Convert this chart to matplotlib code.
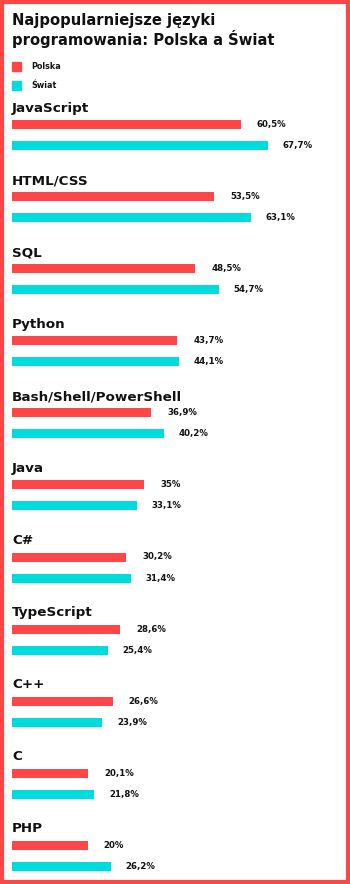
import matplotlib
matplotlib.use('Agg')
import matplotlib.pyplot as plt
from matplotlib.patches import Rectangle

# data
languages = ['JavaScript', 'HTML/CSS', 'SQL', 'Python', 'Bash/Shell/PowerShell',
             'Java', 'C#', 'TypeScript', 'C++', 'C', 'PHP']
polska = [60.5, 53.5, 48.5, 43.7, 36.9, 35.0, 30.2, 28.6, 26.6, 20.1, 20.0]
swiat = [67.7, 63.1, 54.7, 44.1, 40.2, 33.1, 31.4, 25.4, 23.9, 21.8, 26.2]
polska_labels = ['60,5%', '53,5%', '48,5%', '43,7%', '36,9%', '35%', '30,2%',
                 '28,6%', '26,6%', '20,1%', '20%']
swiat_labels = ['67,7%', '63,1%', '54,7%', '44,1%', '40,2%', '33,1%', '31,4%',
                '25,4%', '23,9%', '21,8%', '26,2%']

RED = '#ff4646'
CYAN = '#00dcdc'
W, H = 350, 884
px_per_pct = 3.78

fig = plt.figure(figsize=(W / 100, H / 100), dpi=100)
fig.patch.set_facecolor('white')

ax = fig.add_axes([12 / W, 0, 1 - 12 / W, 1])
ax.set_xlim(0, (W - 12) / px_per_pct)
ax.set_ylim(H, 0)
ax.axis('off')

step = 72.05
for i, lang in enumerate(languages):
    ty = 108.5 + step * i
    y1 = 124.7 + step * i
    y2 = 145.7 + step * i
    ax.text(0, ty, lang, fontsize=9.7, fontweight='bold', va='center', ha='left',
            color='#111111')
    ax.barh(y1, polska[i], height=9, left=0, color=RED)
    ax.barh(y2, swiat[i], height=9, left=0, color=CYAN)
    ax.text(polska[i] + 4.3, y1, polska_labels[i], fontsize=6.2, fontweight='bold',
            va='center', ha='left', color='#111111')
    ax.text(swiat[i] + 3.9, y2, swiat_labels[i], fontsize=6.2, fontweight='bold',
            va='center', ha='left', color='#111111')

# title
fig.text(12 / W, 1 - 20.5 / H, 'Najpopularniejsze języki', fontsize=10.6,
         fontweight='bold', va='center', ha='left', color='#111111')
fig.text(12 / W, 1 - 38.5 / H, 'programowania: Polska a Świat', fontsize=10.6,
         fontweight='bold', va='center', ha='left', color='#111111')

# legend
for k, (name, col) in enumerate([('Polska', RED), ('Świat', CYAN)]):
    yc = 66.5 + 19 * k
    fig.patches.append(Rectangle((12 / W, 1 - (yc + 4.5) / H), 9 / W, 9 / H,
                                 transform=fig.transFigure, color=col))
    fig.text(31 / W, 1 - yc / H, name, fontsize=5.8, fontweight='bold',
             va='center', ha='left', color='#111111')

# frame
fig.patches.append(Rectangle((2 / W, 2 / H), 1 - 4 / W, 1 - 4 / H,
                             transform=fig.transFigure, fill=False,
                             edgecolor=RED, linewidth=3))

fig.savefig('out.png', dpi=100)
